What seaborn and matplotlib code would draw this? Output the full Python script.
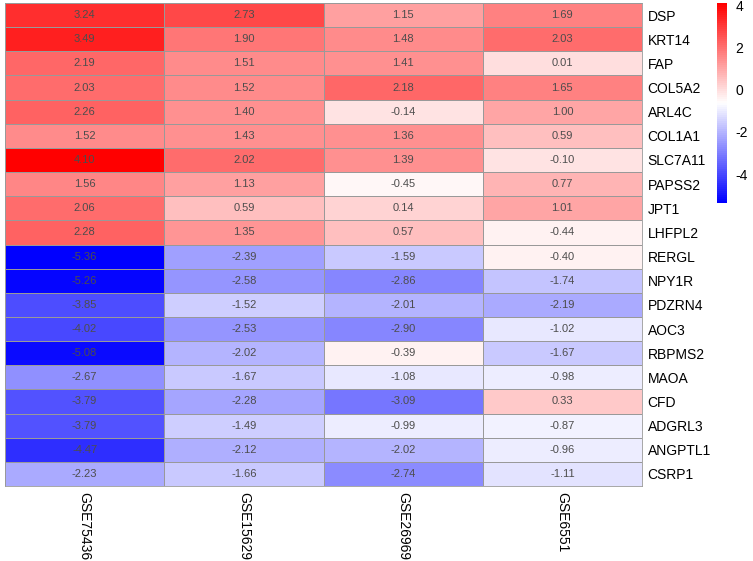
import numpy as np
import pandas as pd
import matplotlib
matplotlib.use("Agg")
import matplotlib.pyplot as plt
import seaborn as sns
from matplotlib.colors import LinearSegmentedColormap

genes = ["DSP", "KRT14", "FAP", "COL5A2", "ARL4C", "COL1A1", "SLC7A11", "PAPSS2",
         "JPT1", "LHFPL2", "RERGL", "NPY1R", "PDZRN4", "AOC3", "RBPMS2", "MAOA",
         "CFD", "ADGRL3", "ANGPTL1", "CSRP1"]
datasets = ["GSE75436", "GSE15629", "GSE26969", "GSE6551"]

gse75436 = [3.24, 3.49, 2.19, 2.03, 2.26, 1.52, 4.10, 1.56, 2.06, 2.28,
            -5.36, -5.26, -3.85, -4.02, -5.08, -2.67, -3.79, -3.79, -4.47, -2.23]
gse15629 = [2.73, 1.90, 1.51, 1.52, 1.40, 1.43, 2.02, 1.13, 0.59, 1.35,
            -2.39, -2.58, -1.52, -2.53, -2.02, -1.67, -2.28, -1.49, -2.12, -1.66]
gse26969 = [1.15, 1.48, 1.41, 2.18, -0.14, 1.36, 1.39, -0.45, 0.14, 0.57,
            -1.59, -2.86, -2.01, -2.90, -0.39, -1.08, -3.09, -0.99, -2.02, -2.74]
gse6551 = [1.69, 2.03, 0.01, 1.65, 1.00, 0.59, -0.10, 0.77, 1.01, -0.44,
           -0.40, -1.74, -2.19, -1.02, -1.67, -0.98, 0.33, -0.87, -0.96, -1.11]

df = pd.DataFrame({datasets[0]: gse75436, datasets[1]: gse15629,
                   datasets[2]: gse26969, datasets[3]: gse6551}, index=genes)

plt.rcParams["font.family"] = ["Liberation Sans", "DejaVu Sans"]
plt.rcParams["axes.unicode_minus"] = False

cmap = LinearSegmentedColormap.from_list("bwr_ph", ["#0000FF", "#FFFFFF", "#FF0000"], N=100)
vmin, vmax = df.values.min(), df.values.max()

fig = plt.figure(figsize=(7.53, 5.61), dpi=100)
W, H = 753, 561
ax = fig.add_axes([5 / W, (H - 486) / H, 637 / W, 483 / H])
cax = fig.add_axes([717 / W, (H - 203) / H, 10 / W, 200 / H])

sns.heatmap(df, ax=ax, cbar_ax=cax, cmap=cmap, vmin=vmin, vmax=vmax,
            annot=True, fmt=".2f", annot_kws={"size": 8, "color": "#4D4D4D"},
            linewidths=0.6, linecolor="#999999")

# outer border like pheatmap
for s in ax.spines.values():
    s.set_visible(True)
    s.set_color("#999999")
    s.set_linewidth(0.6)

ax.yaxis.tick_right()
ax.set_yticklabels(genes, rotation=0, fontsize=10)
ax.set_xticklabels(datasets, rotation=-90, fontsize=10, va="top")
ax.tick_params(axis="both", length=0, pad=4)
ax.set_xlabel("")
ax.set_ylabel("")

cbar = ax.collections[0].colorbar
cbar.outline.set_visible(False)
cbar.set_ticks([-4, -2, 0, 2, 4])
cax.tick_params(length=0, labelsize=10, pad=6)

fig.savefig("out.png", dpi=100)
